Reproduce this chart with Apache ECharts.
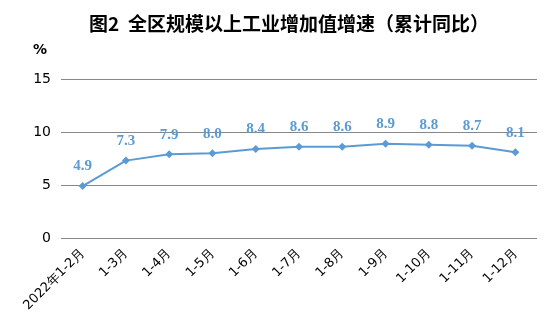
<!DOCTYPE html>
<html>
<head>
<meta charset="utf-8">
<script src="https://cdn.jsdelivr.net/npm/echarts@6/dist/echarts.min.js"></script>
<style>
html, body { margin: 0; padding: 0; background: #fff; }
#chart { width: 554px; height: 332px; }
</style>
</head>
<body>
<div id="chart"></div>
<script>
// Monthly cumulative periods of 2022
const categories = ['2022年1-2月', '1-3月', '1-4月', '1-5月', '1-6月', '1-7月', '1-8月', '1-9月', '1-10月', '1-11月', '1-12月'];
// Year-on-year growth of industrial value added above designated size (%)
const growth = [4.9, 7.3, 7.9, 8.0, 8.4, 8.6, 8.6, 8.9, 8.8, 8.7, 8.1];
// Value axis ticks
const yTicks = [0, 5, 10, 15];

const chart = echarts.init(document.getElementById('chart'), null, { renderer: 'canvas' });

chart.setOption({
  backgroundColor: '#ffffff',
  animation: false,
  title: {
    text: '图2  全区规模以上工业增加值增速（累计同比）',
    left: 284,
    textAlign: 'center',
    top: 9,
    textStyle: {
      fontFamily: '"Noto Sans CJK SC", sans-serif',
      fontSize: 19,
      fontWeight: 'bold',
      color: '#000'
    }
  },
  graphic: [{
    type: 'text',
    left: 33,
    top: 43,
    style: {
      text: '%',
      font: 'bold 14px "DejaVu Sans", sans-serif',
      fill: '#000'
    }
  }],
  grid: {
    left: 61,
    right: 17,
    top: 79,
    bottom: 94,
    containLabel: false
  },
  xAxis: {
    type: 'category',
    data: categories,
    boundaryGap: true,
    axisLine: { show: false },
    axisTick: { show: false },
    axisLabel: {
      interval: 0,
      rotate: 45,
      margin: 13,
      fontFamily: '"DejaVu Sans", sans-serif',
      fontSize: 13,
      color: '#000'
    }
  },
  yAxis: {
    type: 'value',
    min: yTicks[0],
    max: yTicks[yTicks.length - 1],
    interval: 5,
    axisLine: { show: false },
    axisTick: { show: false },
    axisLabel: {
      margin: 10,
      fontFamily: '"DejaVu Sans", sans-serif',
      fontSize: 14,
      color: '#000'
    },
    splitLine: { lineStyle: { color: '#878787', width: 1 } }
  },
  series: [{
    type: 'line',
    data: growth,
    symbol: 'diamond',
    symbolSize: 8,
    lineStyle: { color: '#5B9BD5', width: 2 },
    itemStyle: { color: '#5B9BD5' },
    label: {
      show: true,
      position: 'top',
      distance: 8,
      formatter: p => p.value.toFixed(1),
      fontFamily: '"Liberation Serif", serif',
      fontWeight: 'bold',
      fontSize: 15,
      color: '#5B9BD5'
    }
  }]
});
</script>
</body>
</html>
